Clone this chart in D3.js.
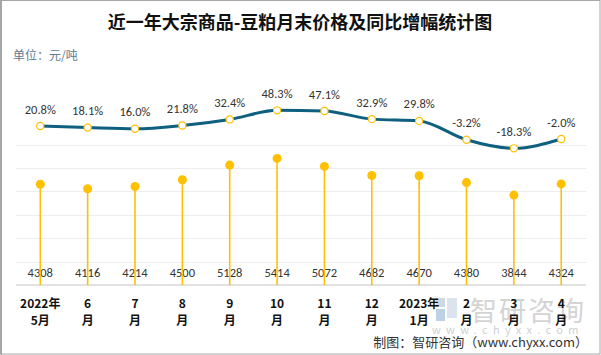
<!DOCTYPE html>
<html><head><meta charset="utf-8">
<script src="https://cdn.jsdelivr.net/npm/d3@7"></script>
<style>body{margin:0;background:#fff;}svg{display:block;font-family:"Microsoft YaHei","Noto Sans CJK SC",sans-serif;}</style>
</head><body>
<script>
const months1 = ["2022年","6","7","8","9","10","11","12","2023年","2","3","4"];
const months2 = ["5月","月","月","月","月","月","月","月","1月","月","月","月"];
const prices = [4308,4116,4214,4500,5128,5414,5072,4682,4670,4380,3844,4324];
const yoy = [20.8,18.1,16.0,21.8,32.4,48.3,47.1,32.9,29.8,-3.2,-18.3,-2.0];
const gridTicks = [1000,2000,3000,4000,5000,6000];

const W=601,H=355;
const svg=d3.select("body").append("svg").attr("width",W).attr("height",H);
svg.append("rect").attr("x",0.5).attr("y",0.5).attr("width",W-1.5).attr("height",H-1.5).attr("fill","#fff").attr("stroke","#a6a6a6").attr("stroke-width",1);
svg.append("line").attr("x1",1.5).attr("x2",1.5).attr("y1",0).attr("y2",H).attr("stroke","#a6a6a6");

svg.append("text").attr("x",300).attr("y",29).attr("text-anchor","middle").attr("font-size",18).attr("font-weight","bold").attr("fill","#111").text("近一年大宗商品-豆粕月末价格及同比增幅统计图");
svg.append("text").attr("x",13).attr("y",60).attr("font-size",12).attr("fill","#5b7a94").text("单位：元/吨");

const idx=d3.range(prices.length);
const x=d3.scaleBand().domain(idx).range([16.6,584.9]);
const cx=i=>x(i)+x.bandwidth()/2;
const y=d3.scaleLinear().domain([0,6000]).range([285,144.7]);
const y2=d3.scaleLinear().domain([-20,50]).range([137.9+20*0.5706,137.9-50*0.5706]);

// grid
svg.append("g").selectAll("line").data(gridTicks).join("line")
 .attr("x1",16).attr("x2",586).attr("y1",d=>Math.round(y(d))+0.5).attr("y2",d=>Math.round(y(d))+0.5)
 .attr("stroke","#ededed").attr("stroke-width",1);

// watermark
const wm=svg.append("g");
wm.append("rect").attr("x",436).attr("y",298).attr("width",9).attr("height",9).attr("fill","#cfd9e6");
wm.append("rect").attr("x",447).attr("y",298).attr("width",10).attr("height",20).attr("fill","#dbe3ec");
wm.append("rect").attr("x",436).attr("y",309).attr("width",9).attr("height",12).attr("fill","#bcd0e6");
wm.append("text").attr("x",470).attr("y",321).attr("font-size",27).attr("fill","#d4d4d4").attr("letter-spacing",2).text("智研咨询");
wm.append("text").attr("x",432).attr("y",334).attr("font-size",11).attr("fill","#d0d0d0").attr("letter-spacing",5.3).text("www.chyxx.com");

// price labels
svg.append("g").selectAll("text").data(prices).join("text")
 .attr("x",(d,i)=>cx(i)).attr("y",276.5).attr("text-anchor","middle").attr("font-size",12.5).attr("fill","#333")
 .attr("font-family","Calibri,Carlito,'Liberation Sans',sans-serif").text(d=>d);

// axis
svg.append("line").attr("x1",16).attr("x2",586).attr("y1",285).attr("y2",285).attr("stroke","#d9d9d9").attr("stroke-width",1.5);

// sticks
svg.append("g").selectAll("line").data(prices).join("line")
 .attr("x1",(d,i)=>cx(i)).attr("x2",(d,i)=>cx(i)).attr("y1",285).attr("y2",d=>y(d))
 .attr("stroke","#FFC000").attr("stroke-width",1.6);
svg.append("g").selectAll("circle").data(prices).join("circle")
 .attr("cx",(d,i)=>cx(i)).attr("cy",d=>y(d)).attr("r",4.5).attr("fill","#FFC000");

// line
const line=d3.line().x((d,i)=>cx(i)).y(d=>y2(d)).curve(d3.curveMonotoneX);
svg.append("path").datum(yoy).attr("d",line).attr("fill","none").attr("stroke","#0e5f80").attr("stroke-width",3);
svg.append("g").selectAll("circle").data(yoy).join("circle")
 .attr("cx",(d,i)=>cx(i)).attr("cy",d=>y2(d)).attr("r",3.6).attr("fill","#fff").attr("stroke","#FFC000").attr("stroke-width",1.2);
svg.append("g").selectAll("text").data(yoy).join("text")
 .attr("x",(d,i)=>cx(i)).attr("y",d=>y2(d)-12.5).attr("text-anchor","middle").attr("font-size",12.5).attr("fill","#333")
 .attr("font-family","Calibri,Carlito,'Liberation Sans',sans-serif").text(d=>d.toFixed(1)+"%");

// x labels
const xl=svg.append("g").attr("font-size",12).attr("font-weight","bold").attr("fill","#111").attr("text-anchor","middle");
xl.selectAll("text.a").data(months1).join("text").attr("class","a").attr("x",(d,i)=>cx(i)).attr("y",308).text(d=>d);
xl.selectAll("text.b").data(months2).join("text").attr("class","b").attr("x",(d,i)=>cx(i)).attr("y",325).text(d=>d);

svg.append("text").attr("x",588).attr("y",347).attr("text-anchor","end").attr("font-size",13).attr("fill","#333").text("制图：智研咨询（www.chyxx.com）");
</script>
</body></html>
